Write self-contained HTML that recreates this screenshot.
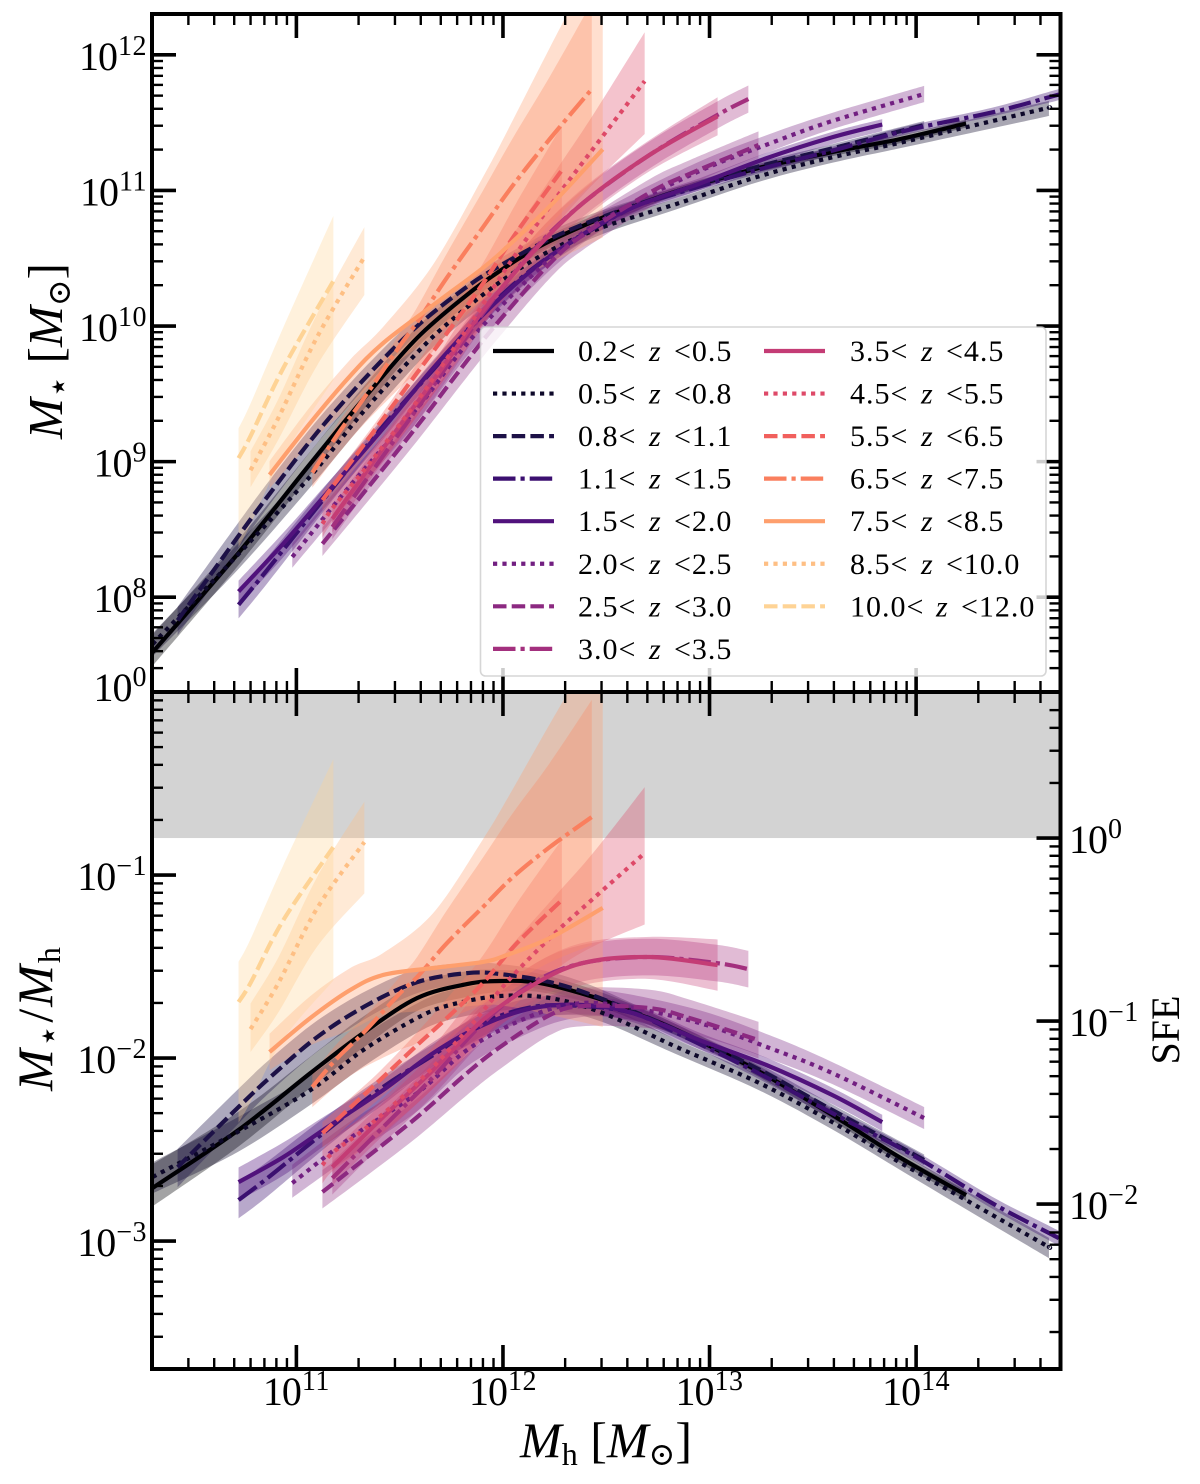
<!DOCTYPE html>
<html lang="en">
<head>
<meta charset="utf-8">
<title>Stellar-to-halo mass relation</title>
<style>
  html, body { margin: 0; padding: 0; background: #fff; }
  svg { display: block; }
  text { font-family: "Liberation Serif", "DejaVu Serif", serif; fill: #000; }
</style>
</head>
<body>
<svg id="figure" width="1200" height="1484" viewBox="0 0 1200 1484">
  <defs>
    <clipPath id="clip-top"><rect x="152" y="14" width="908.5" height="678"></rect></clipPath>
    <clipPath id="clip-bottom"><rect x="152" y="692" width="908.5" height="677"></rect></clipPath>
  </defs>
  <g id="top-series" clip-path="url(#clip-top)"></g>
  <rect id="sfe-band" fill="#d3d3d3"></rect>
  <g id="bottom-series" clip-path="url(#clip-bottom)"></g>
  <g id="ticks"></g>
  <g id="tick-labels"></g>
  <g id="legend"></g>
  <rect x="152" y="14" width="908.5" height="678" fill="none" stroke="#000" stroke-width="4"></rect>
  <rect x="152" y="692" width="908.5" height="677" fill="none" stroke="#000" stroke-width="4"></rect>

  <text transform="translate(62,351) rotate(-90)" text-anchor="middle" font-size="49"><tspan font-style="italic">M</tspan><tspan dy="8" font-size="36">⋆</tspan><tspan dy="-8"> [</tspan><tspan font-style="italic">M</tspan><tspan dy="8" font-size="32">⊙</tspan><tspan dy="-8">]</tspan></text>
  <text transform="translate(52,1018) rotate(-90)" text-anchor="middle" font-size="50" letter-spacing="2"><tspan font-style="italic">M</tspan><tspan dy="8" font-size="36">⋆</tspan><tspan dy="-8">/</tspan><tspan font-style="italic">M</tspan><tspan dy="8" font-size="32">h</tspan></text>
  <text x="606" y="1457" text-anchor="middle" font-size="50"><tspan font-style="italic">M</tspan><tspan dy="8" font-size="32">h</tspan><tspan dy="-8"> [</tspan><tspan font-style="italic">M</tspan><tspan dy="8" font-size="32">⊙</tspan><tspan dy="-8">]</tspan></text>
  <text transform="translate(1179,1030) rotate(-90)" text-anchor="middle" font-size="40">SFE</text>
</svg>

<script>
// ---- Tick labels (log10 exponents) ----
const xTickExponents = [11, 12, 13, 14];
const stellarTickExponents = [8, 9, 10, 11, 12];
const ratioTickExponents = [0, -1, -2, -3];
const sfeTickExponents = [0, -1, -2];

// ---- Legend categories ----
const zLower = ['0.2','0.5','0.8','1.1','1.5','2.0','2.5','3.0','3.5','4.5','5.5','6.5','7.5','8.5','10.0'];
const zUpper = ['0.5','0.8','1.1','1.5','2.0','2.5','3.0','3.5','4.5','5.5','6.5','7.5','8.5','10.0','12.0'];

// ---- Series values: log10 Mh, log10 (M*/Mh), band up / down in dex ----
const logMh0 = [10.304,10.72,11.068,11.324,11.585,11.826,11.986,12.179,12.454,12.628,12.841,13.227,13.594,13.918,14.242];
const logRatio0 = [-2.710,-2.393,-2.082,-1.863,-1.672,-1.596,-1.579,-1.590,-1.672,-1.749,-1.847,-2.066,-2.311,-2.541,-2.749];
const up0 = [.13,.1,.09,.09,.08,.07,.06,.05,.04,.04,.03,.03,.03,.03,.03];
const down0 = [.1,.09,.08,.08,.07,.07,.06,.05,.04,.04,.03,.03,.03,.03,.03];

const logMh1 = [10.304,10.715,11.068,11.324,11.585,11.744,11.986,12.227,12.483,12.841,13.242,13.594,13.918,14.242,14.609,14.643];
const logRatio1 = [-2.650,-2.404,-2.175,-1.956,-1.781,-1.710,-1.661,-1.672,-1.754,-1.940,-2.137,-2.350,-2.568,-2.776,-3.011,-3.033];
const up1 = [.08,.08,.08,.08,.08,.08,.07,.06,.05,.04,.04,.04,.04,.05,.05,.05];
const down1 = [.09,.11,.08,.09,.08,.08,.08,.06,.05,.04,.04,.04,.04,.05,.06,.06];

const logMh2 = [10.425,10.715,10.874,11.101,11.343,11.585,11.826,11.986,12.227,12.469,12.841,13.227,13.594,14.039];
const logRatio2 = [-2.596,-2.273,-2.104,-1.885,-1.710,-1.585,-1.536,-1.541,-1.585,-1.672,-1.847,-2.055,-2.284,-2.557];
const up2 = [.1,.1,.1,.09,.08,.07,.055,.055,.055,.05,.03,.03,.03,.03];
const down2 = [.11,.09,.08,.08,.07,.06,.055,.055,.05,.05,.03,.03,.03,.03];

const logMh3 = [10.72,10.86,11.13,11.42,11.662,11.903,12.145,12.386,12.628,12.841,13.208,13.594,13.966,14.367,14.643,14.691];
const logRatio3 = [-2.776,-2.656,-2.41,-2.158,-1.984,-1.809,-1.721,-1.716,-1.754,-1.863,-2.066,-2.301,-2.519,-2.792,-2.956,-2.984];
const up3 = [.1,.09,.08,.06,.06,.06,.05,.05,.04,.03,.03,.03,.03,.035,.04,.04];
const down3 = [.1,.1,.09,.08,.07,.07,.06,.05,.04,.03,.03,.03,.03,.03,.04,.04];

const logMh4 = [10.72,10.937,11.13,11.42,11.662,11.903,12.145,12.386,12.628,12.952,13.275,13.594,13.836];
const logRatio4 = [-2.678,-2.541,-2.393,-2.175,-1.973,-1.82,-1.727,-1.71,-1.754,-1.902,-2.038,-2.202,-2.35];
const up4 = [.08,.08,.07,.06,.06,.06,.06,.05,.05,.04,.04,.04,.04];
const down4 = [.1,.1,.09,.08,.07,.07,.06,.05,.05,.05,.05,.05,.05];

const logMh5 = [10.98,11.26,11.585,11.826,12.068,12.309,12.55,12.952,13.29,13.594,14.039];
const logRatio5 = [-2.683,-2.437,-2.191,-1.956,-1.803,-1.71,-1.71,-1.809,-1.945,-2.082,-2.328];
const up5 = [.1,.09,.08,.08,.08,.08,.07,.07,.07,.06,.06];
const down5 = [.08,.1,.1,.09,.09,.08,.07,.07,.06,.06,.06];

const logMh6 = [11.126,11.324,11.585,11.826,11.986,12.227,12.386,12.71,12.903,13.237];
const logRatio6 = [-2.732,-2.557,-2.322,-2.082,-1.94,-1.765,-1.716,-1.727,-1.781,-1.902];
const up6 = [.12,.11,.1,.1,.1,.1,.1,.1,.1,.1];
const down6 = [.09,.1,.11,.12,.12,.11,.11,.11,.1,.1];

const logMh7 = [11.174,11.42,11.662,11.903,12.145,12.386,12.71,13.034,13.188];
const logRatio7 = [-2.656,-2.377,-2.104,-1.809,-1.59,-1.481,-1.448,-1.481,-1.514];
const up7 = [.09,.08,.09,.1,.1,.1,.1,.1,.1];
const down7 = [.09,.09,.1,.1,.1,.1,.1,.1,.1];

const logMh8 = [11.174,11.42,11.662,11.903,12.145,12.386,12.71,13.039];
const logRatio8 = [-2.596,-2.322,-2.066,-1.792,-1.601,-1.481,-1.448,-1.492];
const up8 = [.09,.08,.09,.1,.11,.11,.11,.14];
const down8 = [.1,.1,.1,.1,.11,.12,.12,.14];

const logMh9 = [11.126,11.179,11.343,11.585,11.826,12.024,12.242,12.435,12.686];
const logRatio9 = [-2.585,-2.514,-2.377,-2.137,-1.847,-1.579,-1.328,-1.131,-.88];
const up9 = [.08,.08,.08,.1,.14,.17,.2,.25,.36];
const down9 = [.1,.1,.1,.11,.14,.17,.2,.26,.39];

const logMh10 = [11.126,11.295,11.42,11.585,11.744,11.903,12.068,12.285];
const logRatio10 = [-2.41,-2.235,-2.104,-1.929,-1.765,-1.59,-1.372,-1.137];
const up10 = [.06,.05,.05,.07,.11,.15,.22,.33];
const down10 = [.08,.09,.1,.12,.13,.16,.24,.36];

const logMh11 = [11.077,11.198,11.324,11.502,11.585,11.729,11.903,12.048,12.227,12.43];
const logRatio11 = [-2.158,-2,-1.863,-1.645,-1.557,-1.372,-1.175,-1.011,-.847,-.683];
const up11 = [.07,.08,.08,.09,.11,.18,.27,.35,.46,.64];
const down11 = [.11,.15,.19,.31,.36,.42,.53,.58,.63,.7];

const logMh12 = [10.87,11.068,11.261,11.42,11.662,11.903,12.019,12.227,12.483];
const logRatio12 = [-1.967,-1.781,-1.628,-1.546,-1.508,-1.475,-1.437,-1.344,-1.18];
const up12 = [.1,.12,.12,.12,.3,.67,.85,1.17,1.5];
const down12 = [.1,.15,.22,.22,.23,.235,.28,.42,.65];

const logMh13 = [10.778,10.913,11.101,11.329];
const logRatio13 = [-1.842,-1.59,-1.18,-.82];
const up13 = [.14,.14,.17,.22];
const down13 = [.125,.16,.21,.28];

const logMh14 = [10.72,10.778,10.937,11.179];
const logRatio14 = [-1.694,-1.59,-1.246,-.847];
const up14 = [.22,.24,.3,.48];
const down14 = [.66,.65,.65,.73];

const allLogMh = [logMh0,logMh1,logMh2,logMh3,logMh4,logMh5,logMh6,logMh7,logMh8,logMh9,logMh10,logMh11,logMh12,logMh13,logMh14];
const allLogRatio = [logRatio0,logRatio1,logRatio2,logRatio3,logRatio4,logRatio5,logRatio6,logRatio7,logRatio8,logRatio9,logRatio10,logRatio11,logRatio12,logRatio13,logRatio14];
const allUp = [up0,up1,up2,up3,up4,up5,up6,up7,up8,up9,up10,up11,up12,up13,up14];
const allDown = [down0,down1,down2,down3,down4,down5,down6,down7,down8,down9,down10,down11,down12,down13,down14];

const sfeUnityLogRatio = -0.798;

// ---- Styles ----
const seriesColors = ['#000004','#0d0829','#1d1147','#3b0f70','#51127c','#721f81','#8c2981','#a3307e','#c43c75','#de4968','#f1605d','#fa7f5e','#fe9f6d','#febf84','#fed395'];
const lineWidth = 4.2;
const dashSolid = 'none';
const dashDotted = '4.2 5.2';
const dashDashed = '13.5 5.2';
const dashDashDot = '22.5 5 4.2 5';
const styleCycle = [dashSolid, dashDotted, dashDashed, dashDashDot];

// ---- Axis functions ----
const xScale = v => 152 + (v - 10.301) * (908.5 / 4.398);
const yTop = v => 692 - (v - 7.301) * (678 / 5);
const yBottom = v => 692 - v * (677 / 3.699);
const ySfe = v => yBottom(v + sfeUnityLogRatio);

const NS = 'http://www.w3.org/2000/svg';
function make(tag, parent) {
  const el = document.createElementNS(NS, tag);
  parent.appendChild(el);
  return el;
}

function smooth(points, moveFirst) {
  let d = (moveFirst ? 'M' : 'L') + points[0][0].toFixed(2) + ' ' + points[0][1].toFixed(2);
  for (let i = 0; i < points.length - 1; i++) {
    const p0 = points[Math.max(i - 1, 0)];
    const p1 = points[i];
    const p2 = points[i + 1];
    const p3 = points[Math.min(i + 2, points.length - 1)];
    const c1x = p1[0] + (p2[0] - p0[0]) / 6;
    const c1y = p1[1] + (p2[1] - p0[1]) / 6;
    const c2x = p2[0] - (p3[0] - p1[0]) / 6;
    const c2y = p2[1] - (p3[1] - p1[1]) / 6;
    d += 'C' + c1x.toFixed(2) + ' ' + c1y.toFixed(2) + ' ' + c2x.toFixed(2) + ' ' + c2y.toFixed(2) + ' ' + p2[0].toFixed(2) + ' ' + p2[1].toFixed(2);
  }
  return d;
}

function drawSeries(group, yFn, addMh, panel) {
  // all shaded bands first, then every median line above them
  allLogMh.forEach((xs, i) => {
    const offset = k => addMh ? xs[k] : 0;
    const hi = xs.map((x, k) => [xScale(x), yFn(allLogRatio[i][k] + allUp[i][k] + offset(k))]);
    const lo = xs.map((x, k) => [xScale(x), yFn(allLogRatio[i][k] - allDown[i][k] + offset(k))]).reverse();

    const band = make('path', group);
    
    
    band.setAttribute('d', smooth(hi, true) + smooth(lo, false) + 'Z');
    band.setAttribute('fill', seriesColors[i]);
    band.setAttribute('fill-opacity', i < 5 ? '0.36' : '0.33');
    band.setAttribute('stroke', 'none');
  });
  allLogMh.forEach((xs, i) => {
    const offset = k => addMh ? xs[k] : 0;
    const mid = xs.map((x, k) => [xScale(x), yFn(allLogRatio[i][k] + offset(k))]);

    const line = make('path', group);
    
    
    line.setAttribute('d', smooth(mid, true));
    line.setAttribute('fill', 'none');
    line.setAttribute('stroke', seriesColors[i]);
    line.setAttribute('stroke-width', lineWidth);
    line.setAttribute('stroke-dasharray', styleCycle[i % 4]);
  });
}

drawSeries(document.getElementById('top-series'), yTop, true, 'stellar-mass');
drawSeries(document.getElementById('bottom-series'), yBottom, false, 'mass-ratio');

const sfeBand = document.getElementById('sfe-band');
sfeBand.setAttribute('x', 152);
sfeBand.setAttribute('width', 908.5);
sfeBand.setAttribute('y', yBottom(0));
sfeBand.setAttribute('height', yBottom(sfeUnityLogRatio) - yBottom(0));

// ---- Ticks ----
const ticksGroup = document.getElementById('ticks');
const MAJOR = 24;
const MINOR = 11;

function hTick(y, xEdge, dir, len, major, name) {
  const t = make('line', ticksGroup);
  
  
  t.setAttribute('x1', xEdge);
  t.setAttribute('x2', xEdge + dir * len);
  t.setAttribute('y1', y);
  t.setAttribute('y2', y);
  t.setAttribute('stroke', '#000');
  t.setAttribute('stroke-width', major ? 3.6 : 2.4);
}
function vTick(x, yEdge, dir, len, major, name) {
  const t = make('line', ticksGroup);
  
  
  t.setAttribute('x1', x);
  t.setAttribute('x2', x);
  t.setAttribute('y1', yEdge);
  t.setAttribute('y2', yEdge + dir * len);
  t.setAttribute('stroke', '#000');
  t.setAttribute('stroke-width', major ? 3.6 : 2.4);
}

const xEdges = [[14, 1], [692, -1], [692, 1], [1369, -1]];
for (let d = 10; d <= 14; d++) {
  for (let m = 1; m <= 9; m++) {
    const v = d + Math.log10(m);
    if (v < 10.31 || v > 14.69) continue;
    xEdges.forEach(e => vTick(xScale(v), e[0], e[1], m === 1 ? MAJOR : MINOR, m === 1, m === 1 ? 'x-major-tick' : 'x-minor-tick'));
  }
}
for (let d = 7; d <= 12; d++) {
  for (let m = 1; m <= 9; m++) {
    const v = d + Math.log10(m);
    if (v < 7.31 || v > 12.295) continue;
    hTick(yTop(v), 152, 1, m === 1 ? MAJOR : MINOR, m === 1, 'stellar-y-tick');
    hTick(yTop(v), 1060.5, -1, m === 1 ? MAJOR : MINOR, m === 1, 'stellar-y-tick-right');
  }
}
for (let d = -4; d <= -1; d++) {
  for (let m = 1; m <= 9; m++) {
    const v = d + Math.log10(m);
    if (v < -3.69) continue;
    hTick(yBottom(v), 152, 1, m === 1 ? MAJOR : MINOR, m === 1, 'ratio-y-tick');
  }
}
for (let d = -3; d <= 0; d++) {
  for (let m = 1; m <= 9; m++) {
    const v = d + Math.log10(m);
    const y = ySfe(v);
    if (y <= 696 || y >= 1366) continue;
    hTick(y, 1060.5, -1, m === 1 ? MAJOR : MINOR, m === 1, 'sfe-y-tick');
  }
}

// ---- Tick labels ----
const labelsGroup = document.getElementById('tick-labels');
function addPowerLabel(x, y, exp, anchor, name) {
  const t = make('text', labelsGroup);
  
  
  t.setAttribute('x', x);
  t.setAttribute('y', y);
  t.setAttribute('text-anchor', anchor);
  t.setAttribute('font-size', 40);
  const base = make('tspan', t);
  base.setAttribute('letter-spacing', '-1');
  base.textContent = '10';
  const sup = make('tspan', t);
  sup.setAttribute('font-size', 28);
  sup.setAttribute('dy', -15);
  sup.setAttribute('dx', 1);
  sup.setAttribute('letter-spacing', '0.5');
  sup.textContent = String(exp).replace('-', '\u2212');
}
xTickExponents.forEach(e => addPowerLabel(xScale(e), 1405, e, 'middle', 'x-tick-label'));
stellarTickExponents.forEach(e => addPowerLabel(147, yTop(e) + 15, e, 'end', 'stellar-y-tick-label'));
ratioTickExponents.forEach(e => addPowerLabel(147, yBottom(e) + 15 - (e === 0 ? 6 : 0), e, 'end', 'ratio-y-tick-label'));
sfeTickExponents.forEach(e => addPowerLabel(1069, ySfe(e) + 15, e, 'start', 'sfe-y-tick-label'));

// ---- Legend ----
const legend = document.getElementById('legend');
const legendBox = make('rect', legend);


legendBox.setAttribute('x', 480.5);
legendBox.setAttribute('y', 327);
legendBox.setAttribute('width', 565.5);
legendBox.setAttribute('height', 349);
legendBox.setAttribute('rx', 5);
legendBox.setAttribute('fill', '#fff');
legendBox.setAttribute('fill-opacity', 0.8);
legendBox.setAttribute('stroke', '#ccc');
legendBox.setAttribute('stroke-opacity', 0.8);
legendBox.setAttribute('stroke-width', 1.6);

zLower.forEach((lo, i) => {
  const col = i < 8 ? 0 : 1;
  const row = i < 8 ? i : i - 8;
  const y = 351 + row * 42.55;
  const handleX = col === 0 ? 493 : 764;
  const textX = col === 0 ? 578 : 850;

  const handle = make('line', legend);
  
  
  handle.setAttribute('x1', handleX);
  handle.setAttribute('x2', handleX + 61);
  handle.setAttribute('y1', y);
  handle.setAttribute('y2', y);
  handle.setAttribute('stroke', seriesColors[i]);
  handle.setAttribute('stroke-width', lineWidth);
  handle.setAttribute('stroke-dasharray', styleCycle[i % 4]);

  const wide = lo.length > 3;
  const label = make('text', legend);
  
  
  label.setAttribute('x', textX);
  label.setAttribute('y', y + 10);
  label.setAttribute('font-size', 30);
  const part1 = make('tspan', label);
  part1.setAttribute('letter-spacing', '1');
  part1.textContent = lo + '<';
  const part2 = make('tspan', label);
  part2.setAttribute('x', textX + (wide ? 86 : 71));
  part2.setAttribute('font-style', 'italic');
  part2.textContent = 'z';
  const part3 = make('tspan', label);
  part3.setAttribute('x', textX + (wide ? 111 : 96));
  part3.setAttribute('letter-spacing', '1');
  part3.textContent = '<' + zUpper[i];
});
</script>
</body>
</html>
